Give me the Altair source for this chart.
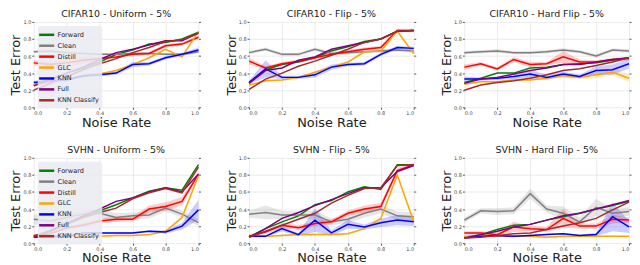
import altair as alt
import pandas as pd

X = [0.0, 0.1, 0.2, 0.3, 0.4, 0.5, 0.6, 0.7, 0.8, 0.9, 1.0]
METHODS = ["Forward", "Clean", "Distill", "GLC", "KNN", "Full", "KNN Classify"]
COLORS = ["#008000", "#808080", "#ff0000", "#ffa500", "#0000ff", "#800080", "#a52a2a"]
BAND_METHODS = ["Clean", "Distill", "GLC", "KNN"]
BAND_COLORS = ["#808080", "#ff0000", "#ffa500", "#0000ff"]
TITLES = ["CIFAR10 - Uniform - 5%", "CIFAR10 - Flip - 5%", "CIFAR10 - Hard Flip - 5%",
          "SVHN - Uniform - 5%", "SVHN - Flip - 5%", "SVHN - Hard Flip - 5%"]
TICKS = [0.0, 0.2, 0.4, 0.6, 0.8, 1.0]

# ---- CIFAR10 Uniform ----
C10U_FORWARD = [0.26, 0.33, 0.40, 0.46, 0.53, 0.62, 0.67, 0.74, 0.76, 0.80, 0.88]
C10U_CLEAN = [0.65, 0.66, 0.64, 0.63, 0.62, 0.62, 0.63, 0.63, 0.62, 0.62, 0.65]
C10U_DISTILL = [0.52, 0.50, 0.52, 0.55, 0.57, 0.59, 0.62, 0.63, 0.72, 0.74, 0.82]
C10U_GLC = [0.27, 0.29, 0.34, 0.36, 0.39, 0.43, 0.50, 0.58, 0.68, 0.59, 0.89]
C10U_KNN = [0.29, 0.31, 0.32, 0.37, 0.38, 0.40, 0.50, 0.51, 0.58, 0.62, 0.67]
C10U_FULL = [0.25, 0.32, 0.40, 0.47, 0.56, 0.64, 0.68, 0.73, 0.78, 0.78, 0.87]
C10U_KNNC = [0.20, 0.28, 0.36, 0.44, 0.51, 0.57, 0.64, 0.70, 0.77, 0.79, 0.87]
C10U_CLEAN_SD = [0.015, 0.015, 0.015, 0.015, 0.015, 0.015, 0.015, 0.015, 0.015, 0.015, 0.015]
C10U_DISTILL_SD = [0.03, 0.03, 0.05, 0.04, 0.02, 0.02, 0.02, 0.02, 0.02, 0.02, 0.02]
C10U_GLC_SD = [0.01, 0.01, 0.01, 0.01, 0.01, 0.01, 0.01, 0.01, 0.01, 0.01, 0.01]
C10U_KNN_SD = [0.02, 0.02, 0.02, 0.02, 0.02, 0.02, 0.03, 0.02, 0.02, 0.02, 0.03]

# ---- CIFAR10 Flip ----
C10F_FORWARD = [0.29, 0.44, 0.50, 0.53, 0.58, 0.66, 0.71, 0.77, 0.80, 0.89, 0.90]
C10F_CLEAN = [0.64, 0.68, 0.62, 0.62, 0.68, 0.63, 0.64, 0.65, 0.66, 0.67, 0.66]
C10F_DISTILL = [0.54, 0.46, 0.51, 0.54, 0.58, 0.62, 0.65, 0.68, 0.70, 0.90, 0.90]
C10F_GLC = [0.26, 0.31, 0.32, 0.35, 0.41, 0.47, 0.53, 0.65, 0.66, 0.89, 0.63]
C10F_KNN = [0.29, 0.45, 0.35, 0.35, 0.38, 0.47, 0.50, 0.51, 0.62, 0.70, 0.69]
C10F_FULL = [0.28, 0.43, 0.46, 0.55, 0.59, 0.68, 0.72, 0.76, 0.80, 0.89, 0.90]
C10F_KNNC = [0.21, 0.33, 0.40, 0.48, 0.54, 0.61, 0.68, 0.76, 0.80, 0.89, 0.90]
C10F_CLEAN_SD = [0.02, 0.02, 0.02, 0.02, 0.02, 0.02, 0.02, 0.02, 0.02, 0.02, 0.02]
C10F_DISTILL_SD = [0.04, 0.02, 0.02, 0.02, 0.02, 0.02, 0.02, 0.02, 0.02, 0.02, 0.02]
C10F_GLC_SD = [0.01, 0.01, 0.01, 0.01, 0.01, 0.01, 0.01, 0.01, 0.01, 0.01, 0.01]
C10F_KNN_SD = [0.02, 0.10, 0.02, 0.02, 0.03, 0.03, 0.02, 0.02, 0.02, 0.02, 0.02]

# ---- CIFAR10 Hard Flip ----
C10H_FORWARD = [0.29, 0.34, 0.40, 0.40, 0.46, 0.47, 0.50, 0.51, 0.52, 0.55, 0.58]
C10H_CLEAN = [0.64, 0.65, 0.66, 0.64, 0.64, 0.65, 0.67, 0.65, 0.60, 0.67, 0.66]
C10H_DISTILL = [0.47, 0.51, 0.45, 0.56, 0.50, 0.51, 0.59, 0.53, 0.53, 0.56, 0.57]
C10H_GLC = [0.27, 0.30, 0.30, 0.32, 0.32, 0.34, 0.37, 0.35, 0.38, 0.41, 0.34]
C10H_KNN = [0.33, 0.33, 0.34, 0.36, 0.39, 0.35, 0.39, 0.36, 0.43, 0.44, 0.51]
C10H_FULL = [0.28, 0.33, 0.35, 0.39, 0.43, 0.46, 0.50, 0.50, 0.53, 0.56, 0.58]
C10H_KNNC = [0.20, 0.26, 0.29, 0.31, 0.34, 0.38, 0.43, 0.45, 0.49, 0.53, 0.58]
C10H_CLEAN_SD = [0.02, 0.02, 0.02, 0.02, 0.02, 0.02, 0.02, 0.02, 0.02, 0.02, 0.02]
C10H_DISTILL_SD = [0.03, 0.02, 0.02, 0.03, 0.03, 0.02, 0.07, 0.03, 0.02, 0.02, 0.02]
C10H_GLC_SD = [0.01, 0.01, 0.01, 0.01, 0.01, 0.01, 0.02, 0.02, 0.04, 0.04, 0.04]
C10H_KNN_SD = [0.03, 0.02, 0.02, 0.03, 0.05, 0.03, 0.03, 0.02, 0.05, 0.06, 0.06]

# ---- SVHN Uniform ----
SVU_FORWARD = [0.08, 0.15, 0.23, 0.31, 0.38, 0.45, 0.53, 0.61, 0.65, 0.62, 0.92]
SVU_CLEAN = [0.28, 0.26, 0.30, 0.34, 0.35, 0.30, 0.32, 0.33, 0.41, 0.34, 0.24]
SVU_DISTILL = [0.09, 0.11, 0.18, 0.21, 0.26, 0.28, 0.28, 0.40, 0.43, 0.49, 0.81]
SVU_GLC = [0.07, 0.07, 0.08, 0.08, 0.08, 0.09, 0.09, 0.10, 0.14, 0.30, 0.79]
SVU_KNN = [0.07, 0.08, 0.08, 0.12, 0.12, 0.12, 0.12, 0.14, 0.13, 0.20, 0.39]
SVU_FULL = [0.07, 0.14, 0.23, 0.32, 0.40, 0.49, 0.53, 0.60, 0.65, 0.60, 0.81]
SVU_KNNC = [0.08, 0.14, 0.22, 0.30, 0.36, 0.41, 0.52, 0.59, 0.64, 0.59, 0.89]
SVU_CLEAN_SD = [0.06, 0.06, 0.05, 0.04, 0.05, 0.05, 0.04, 0.04, 0.04, 0.04, 0.04]
SVU_DISTILL_SD = [0.01, 0.01, 0.02, 0.02, 0.03, 0.03, 0.03, 0.04, 0.05, 0.05, 0.02]
SVU_GLC_SD = [0.01, 0.01, 0.01, 0.01, 0.01, 0.01, 0.01, 0.01, 0.01, 0.02, 0.02]
SVU_KNN_SD = [0.01, 0.01, 0.01, 0.01, 0.01, 0.01, 0.01, 0.01, 0.02, 0.04, 0.12]

# ---- SVHN Flip ----
SVF_FORWARD = [0.07, 0.17, 0.25, 0.32, 0.45, 0.50, 0.60, 0.66, 0.63, 0.92, 0.92]
SVF_CLEAN = [0.34, 0.36, 0.33, 0.33, 0.33, 0.25, 0.28, 0.35, 0.40, 0.32, 0.31]
SVF_DISTILL = [0.08, 0.13, 0.21, 0.18, 0.23, 0.25, 0.35, 0.40, 0.43, 0.85, 0.92]
SVF_GLC = [0.08, 0.08, 0.09, 0.10, 0.10, 0.10, 0.11, 0.17, 0.29, 0.80, 0.25]
SVF_KNN = [0.08, 0.08, 0.17, 0.10, 0.27, 0.12, 0.22, 0.19, 0.24, 0.27, 0.25]
SVF_FULL = [0.07, 0.17, 0.29, 0.36, 0.44, 0.51, 0.58, 0.65, 0.65, 0.84, 0.91]
SVF_KNNC = [0.07, 0.14, 0.21, 0.28, 0.35, 0.47, 0.56, 0.64, 0.65, 0.91, 0.92]
SVF_CLEAN_SD = [0.04, 0.08, 0.05, 0.04, 0.05, 0.04, 0.04, 0.05, 0.05, 0.05, 0.05]
SVF_DISTILL_SD = [0.02, 0.02, 0.03, 0.03, 0.03, 0.03, 0.03, 0.04, 0.04, 0.03, 0.02]
SVF_GLC_SD = [0.01, 0.01, 0.01, 0.01, 0.01, 0.01, 0.01, 0.01, 0.01, 0.01, 0.01]
SVF_KNN_SD = [0.01, 0.01, 0.03, 0.02, 0.14, 0.03, 0.05, 0.03, 0.05, 0.06, 0.05]

# ---- SVHN Hard Flip ----
SVH_FORWARD = [0.07, 0.10, 0.16, 0.21, 0.22, 0.27, 0.31, 0.35, 0.40, 0.44, 0.49]
SVH_CLEAN = [0.27, 0.38, 0.37, 0.38, 0.58, 0.40, 0.35, 0.25, 0.42, 0.35, 0.37]
SVH_DISTILL = [0.12, 0.12, 0.10, 0.19, 0.17, 0.16, 0.29, 0.20, 0.20, 0.28, 0.27]
SVH_GLC = [0.08, 0.08, 0.08, 0.08, 0.08, 0.07, 0.08, 0.08, 0.08, 0.08, 0.08]
SVH_KNN = [0.06, 0.08, 0.09, 0.08, 0.09, 0.10, 0.11, 0.09, 0.10, 0.31, 0.19]
SVH_FULL = [0.06, 0.10, 0.14, 0.19, 0.22, 0.27, 0.32, 0.35, 0.40, 0.45, 0.50]
SVH_KNNC = [0.06, 0.07, 0.09, 0.11, 0.12, 0.16, 0.20, 0.24, 0.29, 0.39, 0.48]
SVH_CLEAN_SD = [0.03, 0.03, 0.04, 0.04, 0.06, 0.04, 0.08, 0.05, 0.10, 0.05, 0.05]
SVH_DISTILL_SD = [0.02, 0.02, 0.03, 0.06, 0.03, 0.03, 0.11, 0.03, 0.03, 0.05, 0.03]
SVH_GLC_SD = [0.01, 0.01, 0.01, 0.01, 0.01, 0.01, 0.01, 0.01, 0.01, 0.01, 0.01]
SVH_KNN_SD = [0.01, 0.01, 0.01, 0.01, 0.01, 0.01, 0.01, 0.01, 0.02, 0.17, 0.07]

PANELS = [
    ([C10U_FORWARD, C10U_CLEAN, C10U_DISTILL, C10U_GLC, C10U_KNN, C10U_FULL, C10U_KNNC],
     [C10U_CLEAN_SD, C10U_DISTILL_SD, C10U_GLC_SD, C10U_KNN_SD]),
    ([C10F_FORWARD, C10F_CLEAN, C10F_DISTILL, C10F_GLC, C10F_KNN, C10F_FULL, C10F_KNNC],
     [C10F_CLEAN_SD, C10F_DISTILL_SD, C10F_GLC_SD, C10F_KNN_SD]),
    ([C10H_FORWARD, C10H_CLEAN, C10H_DISTILL, C10H_GLC, C10H_KNN, C10H_FULL, C10H_KNNC],
     [C10H_CLEAN_SD, C10H_DISTILL_SD, C10H_GLC_SD, C10H_KNN_SD]),
    ([SVU_FORWARD, SVU_CLEAN, SVU_DISTILL, SVU_GLC, SVU_KNN, SVU_FULL, SVU_KNNC],
     [SVU_CLEAN_SD, SVU_DISTILL_SD, SVU_GLC_SD, SVU_KNN_SD]),
    ([SVF_FORWARD, SVF_CLEAN, SVF_DISTILL, SVF_GLC, SVF_KNN, SVF_FULL, SVF_KNNC],
     [SVF_CLEAN_SD, SVF_DISTILL_SD, SVF_GLC_SD, SVF_KNN_SD]),
    ([SVH_FORWARD, SVH_CLEAN, SVH_DISTILL, SVH_GLC, SVH_KNN, SVH_FULL, SVH_KNNC],
     [SVH_CLEAN_SD, SVH_DISTILL_SD, SVH_GLC_SD, SVH_KNN_SD]),
]

W, H = 166, 86
FONT = "DejaVu Sans"
X_SCALE = alt.Scale(domain=[0, 1], nice=False, zero=False)
Y_SCALE = alt.Scale(domain=[0, 1], nice=False, zero=False)


def make_panel(idx):
    series, sds = PANELS[idx]
    line_rows = []
    for m, vals in zip(METHODS, series):
        for k, (x, y) in enumerate(zip(X, vals)):
            line_rows.append({"method": m, "x": x, "y": y, "k": k})
    band_rows = []
    for m, sd in zip(BAND_METHODS, sds):
        vals = series[METHODS.index(m)]
        for k, (x, y, s) in enumerate(zip(X, vals, sd)):
            band_rows.append({"bmethod": m, "x": x, "lo": y - s, "hi": y + s, "k": k})
    ldf = pd.DataFrame(line_rows)
    bdf = pd.DataFrame(band_rows)

    x_axis = alt.Axis(values=TICKS, format=".1f", title="Noise Rate", titleFontSize=13,
                      titleFontWeight="normal", titlePadding=1, labelFontSize=5,
                      labelPadding=1, tickSize=2, domain=False, grid=True)
    y_axis = alt.Axis(values=TICKS, format=".1f", title="Test Error", titleFontSize=13,
                      titleFontWeight="normal", titlePadding=0, labelFontSize=5,
                      labelPadding=1, tickSize=2, domain=False, grid=True)

    band = alt.Chart(bdf).mark_area(opacity=0.2).encode(
        x=alt.X("x:Q", scale=X_SCALE, axis=x_axis),
        y=alt.Y("lo:Q", scale=Y_SCALE, axis=y_axis),
        y2="hi:Q",
        fill=alt.Fill("bmethod:N", scale=alt.Scale(domain=BAND_METHODS, range=BAND_COLORS),
                      legend=None),
        detail="bmethod:N",
    )
    if idx % 3 == 0:
        legend = alt.Legend(orient="top-left", offset=4, title=None,
                            symbolType="M-1.7,0H1.7", symbolStrokeWidth=2.5, symbolSize=80,
                            labelFontSize=6.6, labelFont=FONT, labelColor="#222",
                            fillColor="rgba(234,234,242,0.85)", padding=3, rowPadding=0,
                            labelOffset=5, cornerRadius=2)
    else:
        legend = None
    line = alt.Chart(ldf).mark_line(strokeWidth=1.5).encode(
        x=alt.X("x:Q", scale=X_SCALE, axis=x_axis),
        y=alt.Y("y:Q", scale=Y_SCALE, axis=y_axis),
        color=alt.Color("method:N", scale=alt.Scale(domain=METHODS, range=COLORS), legend=legend),
        order="k:Q",
    )
    right = alt.Chart(ldf).mark_point(opacity=0).encode(
        x=alt.X("x:Q", scale=X_SCALE, axis=x_axis),
        y=alt.Y("y:Q", scale=Y_SCALE,
                axis=alt.Axis(orient="right", values=TICKS, labels=False, title=None,
                              grid=False, domain=False, tickSize=2)),
    )
    inner = alt.layer(band, line)
    return alt.layer(inner, right).resolve_scale(y="independent").properties(
        width=W, height=H,
        title=alt.TitleParams(TITLES[idx], fontSize=9.5, font=FONT, fontWeight="normal",
                              offset=1, color="#222"),
    )


panels = [make_panel(i) for i in range(6)]
row1 = alt.hconcat(*panels[:3], spacing=24).resolve_scale(color="independent", fill="independent")
row2 = alt.hconcat(*panels[3:], spacing=24).resolve_scale(color="independent", fill="independent")
chart = alt.vconcat(row1, row2, spacing=16).resolve_scale(
    color="independent", fill="independent"
).configure(
    font=FONT, padding={"left": 2, "top": 0, "right": 0, "bottom": 0}
).configure_view(stroke=None).configure_axis(
    labelColor="#444", tickColor="#555", gridColor="#e6e6e6", gridWidth=0.8,
    titleColor="#222", labelFont=FONT, titleFont=FONT,
)

chart.save("out.html", embed_options={"renderer": "svg", "actions": False})
